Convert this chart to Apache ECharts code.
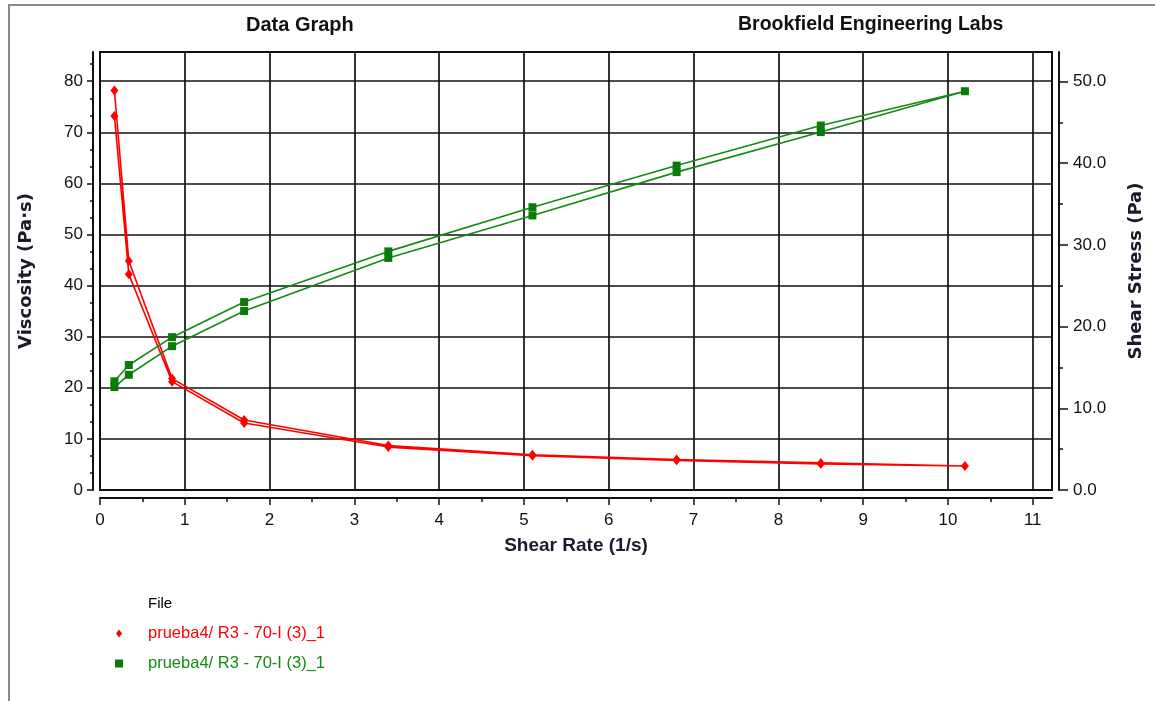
<!DOCTYPE html>
<html>
<head>
<meta charset="utf-8">
<script src="https://cdn.jsdelivr.net/npm/echarts@6/dist/echarts.min.js"></script>
<style>
  html, body { margin: 0; padding: 0; background: #fff; }
  #chart { width: 1155px; height: 701px; }
</style>
</head>
<body>
<div id="chart"></div>
<script>
// shear rate ramp, up then back down (1/s)
var shearRate = [0.17, 0.34, 0.85, 1.7, 3.4, 5.1, 6.8, 8.5, 10.2, 8.5, 6.8, 5.1, 3.4, 1.7, 0.85, 0.34, 0.17]
// viscosity (Pa·s)
var viscosity = [78.2, 44.8, 21.8, 13.7, 8.7, 6.9, 5.95, 5.3, 4.7, 5.1, 5.8, 6.7, 8.4, 13.1, 21.2, 42.2, 73.2]
// shear stress (Pa)
var shearStress = [13.3, 15.3, 18.7, 23.0, 29.2, 34.6, 39.7, 44.6, 48.8, 43.8, 38.9, 33.6, 28.4, 21.9, 17.6, 14.1, 12.6]

var xTicks = [0, 1, 2, 3, 4, 5, 6, 7, 8, 9, 10, 11]
var viscTicks = [0, 10, 20, 30, 40, 50, 60, 70, 80]
var stressTicks = [0, 10, 20, 30, 40, 50]
var fileName = 'prueba4/ R3 - 70-I (3)_1'

// axis extents (what the plot frame covers)
var xMax = 11.227
var viscMax = 85.72
var stressMax = 53.6

// minor tick positions
var xMinor = xTicks.map(function (v) { return v + 0.5 }).filter(function (v) { return v < xMax })
var viscMinor = []
viscTicks.forEach(function (v) {
  viscMinor.push(v + 10 / 3, v + 20 / 3)
})
viscMinor = viscMinor.filter(function (v) { return v < viscMax - 0.5 })
var stressMinor = stressTicks.map(function (v) { return v + 5 }).filter(function (v) { return v < stressMax })

var sans = '"Liberation Sans", Arial, sans-serif'
var ink = '#111'

// an axis that only draws a set of ticks, laid over a main axis
function tickAxis(position, max, values, len) {
  return {
    type: 'value',
    position: position,
    min: 0,
    max: max,
    offset: position === 'bottom' ? 8 : 7,
    axisLine: { show: false, onZero: false },
    axisTick: { show: true, length: len, customValues: values, lineStyle: { color: '#111', width: 1.5 } },
    axisLabel: { show: false },
    splitLine: { show: false }
  }
}

var chart = echarts.init(document.getElementById('chart'))

var option = {
  animation: false,
  backgroundColor: '#fff',
  title: [
    {
      text: 'Data Graph', left: 246, top: 15, padding: 0,
      textStyle: { fontFamily: sans, fontSize: 20, fontWeight: 'bold', color: ink }
    },
    {
      text: 'Brookfield Engineering Labs', left: 738, top: 15, padding: 0,
      textStyle: { fontFamily: sans, fontSize: 19.5, fontWeight: 'bold', color: ink }
    },
    {
      text: 'File', left: 148, top: 596, padding: 0,
      textStyle: { fontFamily: sans, fontSize: 15, fontWeight: 'normal', color: '#000' }
    }
  ],
  legend: {
    orient: 'vertical',
    left: 115,
    top: 625,
    padding: 0,
    itemWidth: 48,
    itemHeight: 8,
    itemGap: 13,
    symbolKeepAspect: true,
    data: [
      { name: 'Viscosity', icon: 'path://M3,0L6,4L3,8L0,4Z', textStyle: { color: '#ff0000' } },
      { name: 'Shear Stress', icon: 'path://M0,0H7V7H0Z', textStyle: { color: '#138a13' } }
    ],
    formatter: function () { return fileName },
    textStyle: { fontFamily: sans, fontSize: 16.5 }
  },
  grid: {
    left: 100,
    right: 103,
    top: 52,
    bottom: 211,
    show: true,
    borderColor: '#111',
    borderWidth: 2,
    containLabel: false
  },
  xAxis: [
    {
      type: 'value',
      min: 0,
      max: xMax,
      interval: 1,
      offset: 8,
      name: 'Shear Rate (1/s)',
      nameLocation: 'middle',
      nameGap: 38,
      nameTextStyle: { fontFamily: sans, fontSize: 19, fontWeight: 'bold', color: '#1a1a2a' },
      axisLine: { show: true, onZero: false, lineStyle: { color: '#111', width: 2 } },
      axisTick: { show: false },
      axisLabel: { customValues: xTicks, margin: 14, fontFamily: sans, fontSize: 17, color: ink },
      splitLine: { show: true, lineStyle: { color: '#111', width: 1.7 } }
    },
    tickAxis('bottom', xMax, xTicks, 7),
    tickAxis('bottom', xMax, xMinor, 4)
  ],
  yAxis: [
    {
      type: 'value',
      position: 'left',
      min: 0,
      max: viscMax,
      interval: 10,
      offset: 7,
      name: 'Viscosity (Pa·s)',
      nameLocation: 'middle',
      nameGap: 58,
      nameTextStyle: { fontFamily: '"DejaVu Sans", sans-serif', fontSize: 18, fontWeight: 'bold', color: '#1a1a2a' },
      axisLine: { show: true, onZero: false, lineStyle: { color: '#111', width: 2 } },
      axisTick: { show: false },
      axisLabel: { customValues: viscTicks, margin: 10, fontFamily: sans, fontSize: 17, color: ink },
      splitLine: { show: true, lineStyle: { color: '#111', width: 1.7 } }
    },
    {
      type: 'value',
      position: 'right',
      min: 0,
      max: stressMax,
      interval: 10,
      offset: 7,
      name: 'Shear Stress (Pa)',
      nameLocation: 'middle',
      nameGap: 68,
      nameTextStyle: { fontFamily: '"DejaVu Sans", sans-serif', fontSize: 18, fontWeight: 'bold', color: '#1a1a2a' },
      axisLine: { show: true, onZero: false, lineStyle: { color: '#111', width: 2 } },
      axisTick: { show: false },
      axisLabel: {
        customValues: stressTicks, margin: 14, fontFamily: sans, fontSize: 17, color: ink,
        formatter: function (v) { return v.toFixed(1) }
      },
      splitLine: { show: false }
    },
    tickAxis('left', viscMax, viscTicks, 6),
    tickAxis('left', viscMax, viscMinor, 3),
    tickAxis('right', stressMax, stressTicks, 9),
    tickAxis('right', stressMax, stressMinor, 4)
  ],
  graphic: [
    // outer window frame
    { type: 'rect', shape: { x: 8, y: 4, width: 1147, height: 2 }, style: { fill: '#8a8a8a' }, silent: true },
    { type: 'rect', shape: { x: 8, y: 4, width: 2, height: 697 }, style: { fill: '#8a8a8a' }, silent: true }
  ],
  series: [
    {
      name: 'Viscosity',
      type: 'line',
      xAxisIndex: 0,
      yAxisIndex: 0,
      data: shearRate.map(function (x, i) { return [x, viscosity[i]] }),
      symbol: 'diamond',
      symbolSize: [8, 10],
      lineStyle: { color: '#ff0000', width: 1.6 },
      itemStyle: { color: '#ff0000' },
      z: 5
    },
    {
      name: 'Shear Stress',
      type: 'line',
      xAxisIndex: 0,
      yAxisIndex: 1,
      data: shearRate.map(function (x, i) { return [x, shearStress[i]] }),
      symbol: 'rect',
      symbolSize: 8,
      lineStyle: { color: '#138a13', width: 1.6 },
      itemStyle: { color: '#0a7a0a' },
      z: 5
    }
  ]
}

chart.setOption(option)
</script>
</body>
</html>
